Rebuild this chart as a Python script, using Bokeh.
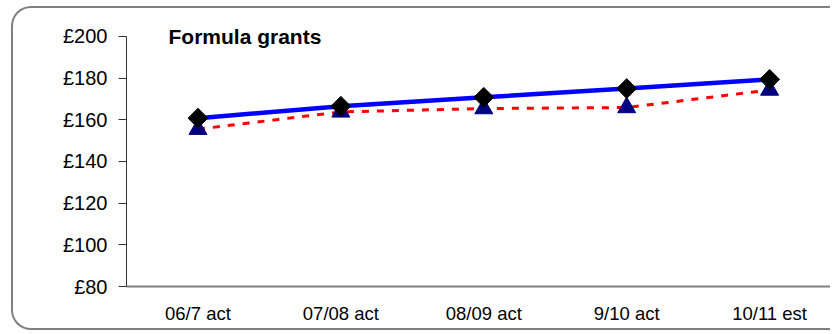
from bokeh.plotting import figure
from bokeh.models import FixedTicker, Label, Range1d
from bokeh.embed import file_html
from bokeh.resources import INLINE

categories = ["06/7 act", "07/08 act", "08/09 act", "9/10 act", "10/11 est"]
series_a = [160.8, 166.5, 170.8, 175.0, 179.4]
series_b = [155.5, 163.8, 165.4, 165.9, 174.3]
y_ticks = [80, 100, 120, 140, 160, 180, 200]
y_tick_labels = ["£80", "£100", "£120", "£140", "£160", "£180", "£200"]
title_text = "Formula grants"

xs = list(range(len(categories)))

p = figure(width=819, height=324, output_backend="svg", toolbar_location=None,
           x_range=Range1d(-0.5, 4.44), y_range=Range1d(80, 204.3),
           min_border_left=113, min_border_right=0, min_border_top=19,
           min_border_bottom=46)
p.styles = {
    "margin-left": "11px",
    "margin-top": "6px",
    "border-left": "2px solid #808080",
    "border-top": "2px solid #808080",
    "border-bottom": "2px solid #808080",
    "border-top-left-radius": "20px",
    "border-bottom-left-radius": "20px",
}
p.outline_line_color = None
p.xgrid.visible = False
p.ygrid.visible = False
p.background_fill_color = "white"
p.border_fill_color = None

FONT = "Liberation Sans"

p.xaxis.ticker = FixedTicker(ticks=xs)
p.xaxis.major_label_overrides = {i: c for i, c in zip(xs, categories)}
p.xaxis.major_tick_line_color = None
p.xaxis.minor_tick_line_color = None
p.xaxis.major_tick_out = 0
p.xaxis.major_label_standoff = 16
p.xaxis.axis_line_color = "#808080"
p.xaxis.axis_line_width = 2
p.xaxis.major_label_text_font = FONT
p.xaxis.major_label_text_font_size = "18.5px"
p.xaxis.major_label_text_color = "black"

p.yaxis.ticker = FixedTicker(ticks=y_ticks)
p.yaxis.bounds = (80, 200)
p.yaxis.major_label_overrides = {t: l for t, l in zip(y_ticks, y_tick_labels)}
p.yaxis.minor_tick_line_color = None
p.yaxis.major_tick_out = 8
p.yaxis.major_tick_in = 0
p.yaxis.major_label_standoff = 11
p.yaxis.axis_line_color = "#333333"
p.yaxis.major_tick_line_color = "#333333"
p.yaxis.major_label_text_font = FONT
p.yaxis.major_label_text_font_size = "20px"
p.yaxis.major_label_text_color = "black"

p.line(xs, series_b, line_color="#FF0000", line_width=3, line_dash="7 8")
p.line(xs, series_a, line_color="#0000FF", line_width=4.5)
p.scatter(xs, series_b, marker="triangle", size=18, fill_color="#000080",
          line_color="#000080")
p.scatter(xs, series_a, marker="square", angle=0.785398, size=14,
          fill_color="black", line_color="black")

title = Label(x=42, y=250, x_units="screen", y_units="screen", text=title_text,
              text_font=FONT, text_font_size="21px",
              text_font_style="bold", text_color="black",
              text_baseline="alphabetic")
p.add_layout(title)

open("out.html", "w").write(file_html(p, INLINE))
